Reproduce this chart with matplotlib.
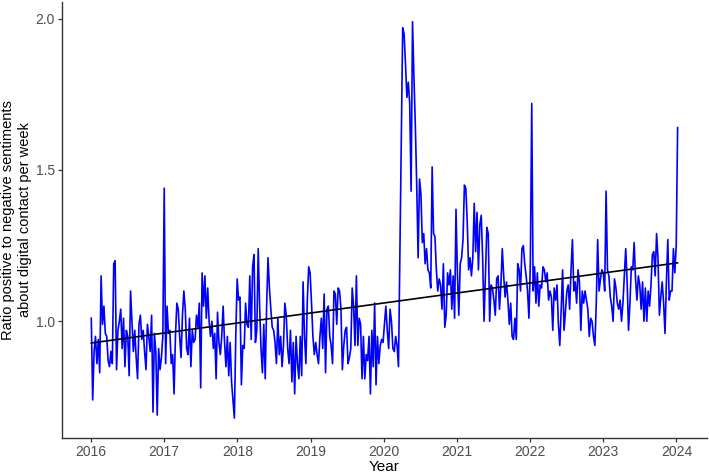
import numpy as np
import pandas as pd
import matplotlib
matplotlib.use("Agg")
import matplotlib.pyplot as plt
import matplotlib.dates as mdates

# Weekly ratio values (one list per calendar year)
y2016 = [1.01, 0.74, 0.90, 0.95, 0.86, 0.94, 0.83, 1.15, 0.99, 1.05,
         0.96, 0.95, 0.87, 0.85, 0.90, 0.86, 1.19, 1.20, 0.84, 0.97,
         1.00, 1.04, 0.91, 1.01, 0.85, 0.97, 0.95, 0.82, 1.10, 1.00,
         0.90, 0.97, 0.88, 0.81, 0.99, 1.02, 0.94, 0.97, 0.90, 0.84,
         0.99, 0.95, 0.90, 1.02, 0.70, 0.96, 0.90, 0.69, 0.91, 0.84,
         0.88, 0.95]
y2017 = [1.44, 0.86, 1.05, 0.96, 0.97, 0.86, 0.89, 0.76, 0.95, 1.06,
         1.04, 0.95, 0.88, 1.02, 1.10, 1.04, 0.91, 0.89, 1.01, 0.85,
         0.97, 0.93, 0.94, 1.02, 0.98, 1.06, 0.78, 1.16, 1.05, 1.15,
         1.01, 1.11, 1.00, 0.95, 1.00, 0.91, 0.96, 0.81, 1.03, 0.93,
         0.89, 0.95, 1.05, 0.93, 0.85, 0.95, 0.82, 0.93, 0.80, 0.74,
         0.68, 0.95, 1.14]
y2018 = [1.07, 1.08, 0.79, 0.92, 0.91, 1.06, 0.99, 0.98, 1.15, 0.94,
         1.18, 1.22, 0.93, 0.97, 1.24, 1.05, 0.91, 0.83, 0.99, 0.81,
         1.05, 1.21, 1.11, 1.04, 0.98, 0.97, 0.93, 0.86, 1.01, 0.89,
         0.95, 0.85, 0.92, 1.06, 1.02, 0.91, 0.86, 0.97, 0.80, 0.93,
         0.76, 0.95, 0.86, 0.81, 0.95, 0.82, 1.13, 0.95, 0.86, 1.07,
         1.18, 1.16]
y2019 = [1.06, 0.95, 0.89, 0.93, 0.89, 0.86, 0.95, 1.01, 0.91, 1.09,
         0.83, 1.04, 1.05, 0.95, 0.92, 0.86, 1.10, 1.09, 0.99, 1.11,
         1.10, 1.04, 0.84, 0.92, 0.97, 0.98, 0.86, 0.88, 0.91, 1.11,
         1.05, 0.92, 1.15, 0.92, 1.01, 0.99, 0.81, 0.95, 0.81, 0.89,
         0.87, 0.95, 0.76, 0.97, 0.85, 1.06, 0.79, 0.95, 0.86, 0.92,
         0.94, 0.93]
y2020 = [0.99, 1.05, 0.97, 0.91, 1.04, 1.00, 0.91, 0.90, 0.95, 0.92,
         0.85, 1.22, 1.60, 1.97, 1.95, 1.85, 1.74, 1.79, 1.72, 1.43,
         1.99, 1.81, 1.65, 1.45, 1.21, 1.47, 1.42, 1.26, 1.29, 1.19,
         1.24, 1.17, 1.16, 1.11, 1.51, 1.29, 1.28, 1.17, 1.10, 1.14,
         1.12, 1.04, 1.19, 0.98, 1.02, 1.16, 1.12, 1.17, 1.04, 1.15,
         1.01, 1.37]
y2021 = [1.16, 1.02, 1.19, 1.21, 1.27, 1.45, 1.44, 1.33, 1.17, 1.21,
         1.15, 1.21, 1.39, 1.23, 1.36, 1.17, 1.32, 1.35, 1.21, 1.00,
         1.15, 1.31, 1.29, 1.00, 1.12, 1.11, 1.07, 1.02, 1.14, 1.15,
         1.04, 1.12, 1.24, 1.15, 1.08, 1.13, 1.07, 0.99, 1.06, 0.95,
         0.94, 1.01, 0.94, 1.19, 1.17, 1.10, 1.24, 1.25, 1.19, 1.15,
         1.10, 1.01]
y2022 = [1.19, 1.72, 1.10, 1.18, 1.06, 1.16, 1.05, 1.12, 1.11, 1.18,
         1.17, 1.13, 1.16, 1.07, 1.10, 1.08, 0.97, 1.11, 1.07, 1.12,
         0.99, 0.92, 1.04, 1.17, 0.97, 1.03, 1.10, 1.12, 1.04, 1.17,
         1.27, 1.10, 1.13, 1.06, 1.17, 1.13, 0.97, 1.10, 1.06, 1.10,
         1.07, 1.04, 0.95, 1.01, 1.00, 0.95, 0.92, 1.06, 1.27, 1.10,
         1.14, 1.17]
y2023 = [1.16, 1.10, 1.43, 1.17, 1.15, 1.08, 1.05, 1.00, 1.14, 1.11,
         1.06, 1.04, 1.07, 1.00, 1.06, 1.15, 1.24, 1.13, 0.97, 1.06,
         1.18, 1.17, 1.26, 1.14, 1.07, 1.15, 1.12, 1.04, 1.13, 1.00,
         1.11, 1.00, 1.10, 1.05, 1.12, 1.22, 1.23, 1.15, 1.29, 1.21,
         1.02, 1.08, 1.13, 1.06, 0.96, 1.13, 1.27, 1.07, 1.10, 1.10,
         1.24, 1.16, 1.25]
y2024 = [1.64]

start_date = "2016-01-03"
year_ticks = [2016, 2017, 2018, 2019, 2020, 2021, 2022, 2023, 2024]
y_ticks = [1.0, 1.5, 2.0]

ratio = np.array(y2016 + y2017 + y2018 + y2019 + y2020 + y2021 + y2022 + y2023 + y2024)
dates = pd.date_range(start_date, periods=len(ratio), freq="W-SUN")

plt.rcParams["font.family"] = ["Liberation Sans", "DejaVu Sans"]

fig = plt.figure(figsize=(7.09, 4.76), dpi=100)
ax = fig.add_axes([0.0874, 0.080, 0.9097, 0.916])

ax.plot(dates, ratio, color="#0000FF", lw=1.2, zorder=2)

# linear trend
xnum = mdates.date2num(dates)
coef = np.polyfit(xnum, ratio, 1)
ax.plot(dates, np.polyval(coef, xnum), color="black", lw=1.2, zorder=3)

ax.margins(x=0.05, y=0.05)
ax.set_xticks([pd.Timestamp(f"{y}-01-01") for y in year_ticks])
ax.set_xticklabels([str(y) for y in year_ticks])
ax.set_yticks(y_ticks)
ax.set_yticklabels([f"{v:.1f}" for v in y_ticks])

for s in ["top", "right"]:
    ax.spines[s].set_visible(False)
for s in ["left", "bottom"]:
    ax.spines[s].set_color("#333333")
    ax.spines[s].set_linewidth(1.0)
ax.tick_params(axis="both", direction="out", length=2.9, width=0.9, color="#333333",
               labelsize=10, labelcolor="#4D4D4D", pad=2.2)

ax.set_xlabel("Year", fontsize=11, color="black", labelpad=0.5)
ax.set_ylabel("Ratio positive to negative sentiments\nabout digital contact per week",
              fontsize=10.5, color="black", labelpad=2.5, linespacing=1.25)

fig.savefig("out.png", dpi=100)
